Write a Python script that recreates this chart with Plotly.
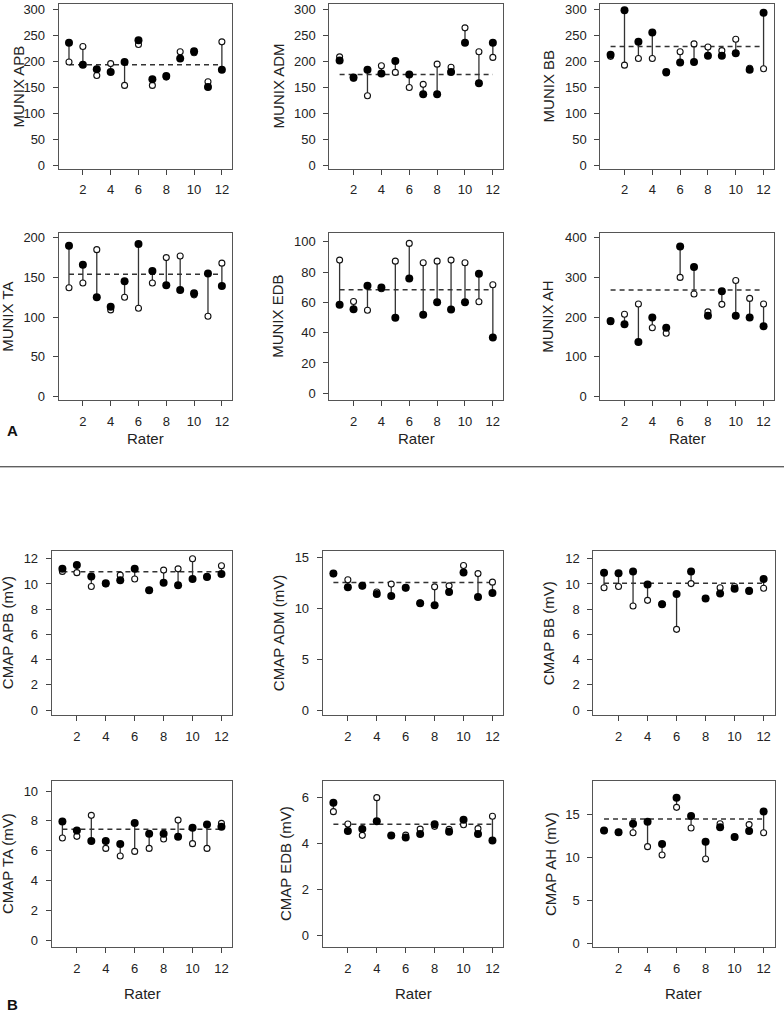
import plotly.graph_objects as go

W, H = 784, 1020
raters = list(range(1, 13))

munix_apb_f = [236, 194, 185, 180, 199, 241, 166, 172, 206, 220, 151, 184]
munix_apb_o = [199, 229, 173, 196, 154, 233, 154, 170, 219, 217, 161, 238]
munix_apb_ref = 194

munix_adm_f = [202, 169, 184, 177, 201, 175, 137, 137, 180, 236, 158, 236]
munix_adm_o = [209, 168, 134, 192, 179, 150, 156, 195, 189, 265, 219, 208]
munix_adm_ref = 175

munix_bb_f = [213, 299, 238, 256, 180, 198, 199, 211, 211, 216, 184, 294]
munix_bb_o = [210, 193, 206, 206, 178, 219, 234, 228, 221, 243, 187, 186]
munix_bb_ref = 229

munix_ta_f = [190, 166, 125, 113, 145, 192, 158, 140, 134, 130, 155, 139]
munix_ta_o = [137, 143, 185, 109, 125, 111, 143, 175, 177, 128, 101, 168]
munix_ta_ref = 154

munix_edb_f = [58.4, 55.5, 70.9, 69.8, 49.8, 75.8, 51.8, 60.1, 55.3, 60.1, 78.9, 36.8]
munix_edb_o = [87.9, 60.6, 54.8, 69.0, 87.2, 98.9, 86.1, 87.2, 87.9, 86.1, 60.4, 71.6]
munix_edb_ref = 68.3

munix_ah_f = [190, 182, 137, 199, 173, 378, 326, 203, 265, 203, 199, 177]
munix_ah_o = [188, 207, 233, 173, 159, 300, 258, 213, 232, 292, 247, 233]
munix_ah_ref = 268

cmap_apb_f = [11.2, 11.5, 10.6, 10.05, 10.3, 11.2, 9.5, 10.1, 9.9, 10.4, 10.55, 10.8]
cmap_apb_o = [11.0, 10.9, 9.8, 10.0, 10.7, 10.4, 9.5, 11.1, 11.2, 12.0, 10.6, 11.45]
cmap_apb_ref = 10.97

cmap_adm_f = [13.4, 12.05, 12.2, 11.4, 11.2, 12.0, 10.5, 10.3, 11.6, 13.5, 11.1, 11.5]
cmap_adm_o = [13.4, 12.8, 12.2, 11.6, 12.37, 12.0, 10.5, 12.1, 12.2, 14.2, 13.4, 12.56]
cmap_adm_ref = 12.53

cmap_bb_f = [10.9, 10.85, 11.0, 9.95, 8.4, 9.2, 11.0, 8.85, 9.25, 9.63, 9.45, 10.4]
cmap_bb_o = [9.7, 9.8, 8.25, 8.7, 8.4, 6.4, 10.03, 8.85, 9.7, 9.8, 9.5, 9.66]
cmap_bb_ref = 10.05

cmap_ta_f = [7.96, 7.36, 6.64, 6.64, 6.44, 7.85, 7.14, 7.14, 6.93, 7.54, 7.76, 7.6]
cmap_ta_o = [6.85, 6.96, 8.37, 6.15, 5.64, 5.95, 6.15, 6.78, 8.05, 6.47, 6.15, 7.83]
cmap_ta_ref = 7.43

cmap_edb_f = [5.76, 4.53, 4.61, 4.95, 4.33, 4.24, 4.4, 4.82, 4.5, 5.02, 4.4, 4.12]
cmap_edb_o = [5.37, 4.83, 4.34, 5.98, 4.33, 4.35, 4.61, 4.73, 4.6, 4.8, 4.63, 5.17]
cmap_edb_ref = 4.82

cmap_ah_f = [13.1, 12.9, 13.9, 14.13, 11.55, 16.9, 14.8, 11.8, 13.5, 12.36, 13.05, 15.33]
cmap_ah_o = [13.1, 12.9, 12.86, 11.24, 10.27, 15.8, 13.4, 9.8, 13.9, 12.36, 13.8, 12.86]
cmap_ah_ref = 14.44

y_titles = ["MUNIX APB", "MUNIX ADM", "MUNIX BB",
            "MUNIX TA", "MUNIX EDB", "MUNIX AH",
            "CMAP APB (mV)", "CMAP ADM (mV)", "CMAP BB (mV)",
            "CMAP TA (mV)", "CMAP EDB (mV)", "CMAP AH (mV)"]
x_ticks = [2, 4, 6, 8, 10, 12]

panels = [
    (munix_apb_f, munix_apb_o, munix_apb_ref, [-7, 311], 50, 300),
    (munix_adm_f, munix_adm_o, munix_adm_ref, [-7, 311], 50, 300),
    (munix_bb_f, munix_bb_o, munix_bb_ref, [-7, 311], 50, 300),
    (munix_ta_f, munix_ta_o, munix_ta_ref, [-5, 205.5], 50, 200),
    (munix_edb_f, munix_edb_o, munix_edb_ref, [-4.6, 105.5], 20, 100),
    (munix_ah_f, munix_ah_o, munix_ah_ref, [-10, 411], 100, 400),
    (cmap_apb_f, cmap_apb_o, cmap_apb_ref, [-0.4, 12.6], 2, 12),
    (cmap_adm_f, cmap_adm_o, cmap_adm_ref, [-0.49, 15.6], 5, 15),
    (cmap_bb_f, cmap_bb_o, cmap_bb_ref, [-0.4, 12.6], 2, 12),
    (cmap_ta_f, cmap_ta_o, cmap_ta_ref, [-0.5, 10.7], 2, 10),
    (cmap_edb_f, cmap_edb_o, cmap_edb_ref, [-0.54, 6.72], 2, 6),
    (cmap_ah_f, cmap_ah_o, cmap_ah_ref, [-0.46, 18.9], 5, 15),
]

# ---- layout geometry (pixels) ----
rows_px = [(1, 167), (232, 400), (552, 717), (783, 951)]
cols_top = [(58.7, 232.3), (329.3, 503.3), (600.3, 774)]
cols_bot = [(51.7, 232.3), (322.7, 503.3), (593.3, 774.5)]
title_x = [18, 278, 548, 8, 278, 548, 7, 278, 548, 7, 285, 550]
rater_y = [439, 997]

def px2x(p):
    return p / W

def px2y(p):
    return 1 - p / H

FONT = "Liberation Sans, Arial, sans-serif"
TXT = "#222222"

fig = go.Figure()
layout = dict(
    width=W, height=H, margin=dict(l=0, r=0, t=0, b=0),
    paper_bgcolor="white", plot_bgcolor="white", showlegend=False,
    font=dict(family=FONT, size=13, color=TXT),
)
annotations = []

for i, (f, o, ref, yr, dt, ymax) in enumerate(panels):
    r, c = divmod(i, 3)
    cols = cols_top if r < 2 else cols_bot
    x0, x1 = cols[c]
    y0, y1 = rows_px[r]
    k = "" if i == 0 else str(i + 1)
    xa, ya = "x" + k, "y" + k

    seg_x, seg_y = [], []
    for xv, a, b in zip(raters, f, o):
        seg_x += [xv, xv, None]
        seg_y += [a, b, None]
    fig.add_trace(go.Scatter(x=seg_x, y=seg_y, mode="lines",
                             line=dict(color="#333333", width=1.3),
                             xaxis=xa, yaxis=ya, hoverinfo="skip"))
    fig.add_trace(go.Scatter(x=[raters[0], raters[-1]], y=[ref, ref], mode="lines",
                             line=dict(color="#333333", width=1.5, dash="5px,4px"),
                             xaxis=xa, yaxis=ya, hoverinfo="skip"))
    fig.add_trace(go.Scatter(x=raters, y=o, mode="markers",
                             marker=dict(size=6, color="white",
                                         line=dict(color="#111111", width=1.1)),
                             xaxis=xa, yaxis=ya))
    fig.add_trace(go.Scatter(x=raters, y=f, mode="markers",
                             marker=dict(size=8, color="#000000",
                                         line=dict(width=0)),
                             xaxis=xa, yaxis=ya))

    axis_common = dict(showgrid=False, zeroline=False, showline=True, mirror=True,
                       linecolor="#555555", linewidth=1, ticks="outside",
                       ticklen=5, tickwidth=1, tickcolor="#444444",
                       tickfont=dict(family=FONT, size=13, color=TXT))
    layout["xaxis" + k] = dict(
        domain=[px2x(x0), px2x(x1)], range=[0.26, 12.75], anchor=ya,
        tickmode="array", tickvals=x_ticks, ticktext=[str(t) for t in x_ticks],
        ticklabelstandoff=4, **axis_common)
    yt = list(range(0, ymax + 1, dt))
    layout["yaxis" + k] = dict(
        domain=[px2y(y1), px2y(y0)], range=yr, anchor=xa,
        tickmode="array", tickvals=yt, ticktext=[str(t) for t in yt],
        ticklabelstandoff=5, **axis_common)

    annotations.append(dict(
        text=y_titles[i], x=px2x(title_x[i]), y=px2y((y0 + y1) / 2),
        xref="paper", yref="paper", textangle=-90, showarrow=False,
        xanchor="center", yanchor="middle",
        font=dict(family=FONT, size=15, color=TXT)))
    if r in (1, 3):
        annotations.append(dict(
            text="Rater", x=px2x((x0 + x1) / 2), y=px2y(rater_y[r // 2]),
            xref="paper", yref="paper", showarrow=False,
            xanchor="center", yanchor="middle",
            font=dict(family=FONT, size=15, color=TXT)))

annotations.append(dict(text="<b>A</b>", x=px2x(12), y=px2y(430), xref="paper",
                        yref="paper", showarrow=False, xanchor="center",
                        yanchor="middle", font=dict(family=FONT, size=15, color="#111111")))
annotations.append(dict(text="<b>B</b>", x=px2x(12), y=px2y(1008), xref="paper",
                        yref="paper", showarrow=False, xanchor="center",
                        yanchor="middle", font=dict(family=FONT, size=15, color="#111111")))

layout["annotations"] = annotations
layout["shapes"] = [dict(type="line", xref="paper", yref="paper",
                         x0=0, x1=1, y0=px2y(467), y1=px2y(467),
                         line=dict(color="#222222", width=1))]
fig.update_layout(**layout)
fig.write_html("out.html",
               config={"displayModeBar": False},
               post_script="document.body.style.margin='0';document.body.style.overflow='hidden';")
